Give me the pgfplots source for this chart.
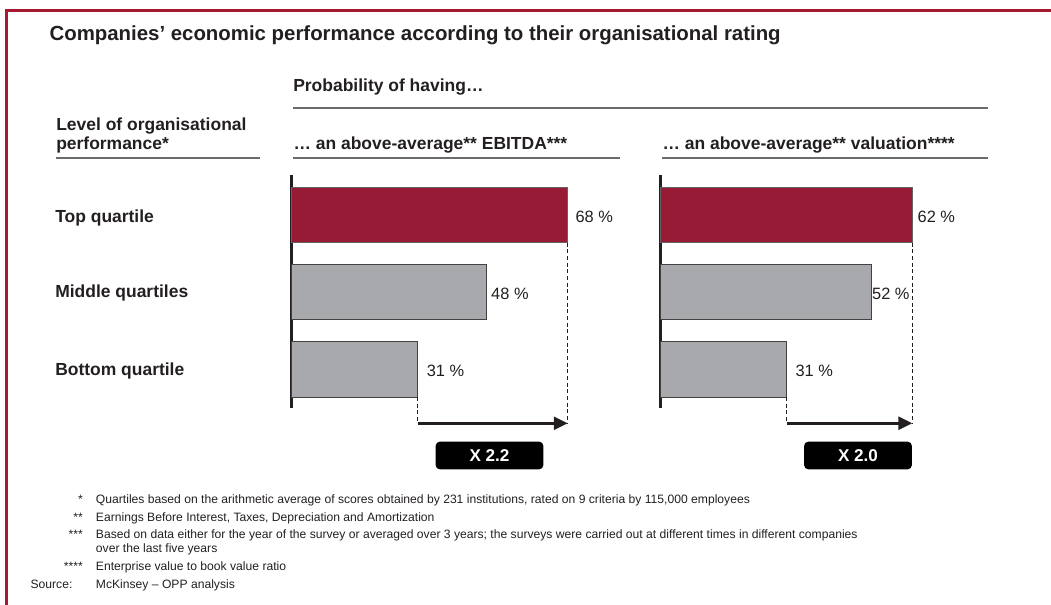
\documentclass[border=0pt]{standalone}
\usepackage{pgfplots}
\pgfplotsset{compat=1.18}
\usepackage{fontspec}
\setmainfont{Liberation Sans}
\usetikzlibrary{arrows.meta}

\definecolor{framered}{HTML}{A6192E}
\definecolor{barred}{HTML}{971B35}
\definecolor{bargrey}{HTML}{A7A9AC}
\definecolor{ink}{HTML}{231F20}
\definecolor{rulegrey}{HTML}{6B6B6B}

\newcommand\hd{\fontsize{13.1}{15}\selectfont\bfseries}
\newcommand\fn{\fontsize{9.1}{10}\selectfont}

\tikzset{
  gap/.style={densely dashed, line width=0.5pt, ink},
  growth/.style={line width=2.5pt, ink, -{Triangle[length=10.5pt,width=9.5pt]}},
}

% one bar panel: 4.06 px per percent, 77 px per row (1 px = 0.75pt)
\pgfplotsset{
  prob/.style={
    scale only axis, width=213.15pt, height=174.75pt,
    xmin=0, xmax=70, ymin=-0.52, ymax=2.5, y dir=reverse,
    axis x line=none, axis y line=left,
    xtick=\empty, ytick=\empty,
    y axis line style={line width=2.4pt, color=ink, -},
    xbar, bar width=0.716, bar shift=0pt, clip=false,
    point meta=x,
    /pgf/number format/assume math mode=true,
    nodes near coords={\pgfmathprintnumber{\pgfplotspointmeta} \%},
    every node near coord/.append style={font=\fontsize{12.3}{14}\selectfont,
      text=ink, anchor=base west, inner sep=0pt, yshift=-5.5pt},
  },
  redbar/.style={fill=barred, draw=ink!70, line width=0.5pt},
  greybar/.style={fill=bargrey, draw=ink!85, line width=0.6pt},
  lbl/.style={every node near coord/.append style={xshift=#1}},
}

\begin{document}
\begin{tikzpicture}[x=0.75pt, y=-0.75pt]
\useasboundingbox (0,0) rectangle (1051,605);
\draw[framered, line width=2.2pt, line join=miter] (6.8,606) -- (6.8,10.5) -- (1052,10.5);

\node[anchor=base west, inner sep=0pt, text=ink, font=\fontsize{15.3}{18}\selectfont\bfseries]
  at (49.3,41) {Companies’ economic performance according to their organisational rating};

% headers
\begin{scope}[every node/.style={anchor=base west, inner sep=0pt, text=ink, font=\hd}]
\node at (293,92) {Probability of having…};
\node at (56,130.7) {Level of organisational};
\node at (56,150) {performance*};
\node at (293.3,150) {… an above-average** EBITDA***};
\node at (662.3,150) {… an above-average** valuation****};
\node at (55,222.3) {Top quartile};
\node at (55,297.3) {Middle quartiles};
\node at (55,375.7) {Bottom quartile};
\end{scope}
\begin{scope}[rulegrey, line width=1.3pt]
\draw (293,107.7) -- (987.5,107.7);
\draw (56,158) -- (260,158);
\draw (293,158) -- (620,158);
\draw (662,158) -- (988,158);
\end{scope}

\coordinate (L) at (291.7,175);
\coordinate (R) at (660.7,175);

% above-average EBITDA
\begin{axis}[prob, at={(L)}, anchor=north west]
\addplot[redbar, lbl=5.6pt] coordinates {(68,0)};
\addplot[greybar, lbl=3.2pt] coordinates {(48,1)};
\addplot[greybar, lbl=6.6pt] coordinates {(31,2)};
\draw[gap] (axis cs:68,0.358) -- (axis cs:68,2.698);
\draw[gap] (axis cs:31,2.358) -- (axis cs:31,2.698);
\draw[growth] (axis cs:31,2.698) -- (axis cs:68,2.698);
\end{axis}

% above-average valuation
\begin{axis}[prob, at={(R)}, anchor=north west]
\addplot[redbar, lbl=3.7pt] coordinates {(62,0)};
\addplot[greybar, lbl=0pt] coordinates {(52,1)};
\addplot[greybar, lbl=6.5pt] coordinates {(31,2)};
\draw[gap] (axis cs:62,0.358) -- (axis cs:62,2.698);
\draw[gap] (axis cs:31,2.358) -- (axis cs:31,2.698);
\draw[growth] (axis cs:31,2.698) -- (axis cs:62,2.698);
\end{axis}

\begin{scope}[every node/.style={fill=black, rounded corners=3pt, minimum width=80.7pt,
    minimum height=20.7pt, inner sep=0pt, text=white, font=\fontsize{12.8}{14}\selectfont\bfseries}]
\node at (489.5,455.5) {X 2.2};
\node at (858,455.5) {X 2.0};
\end{scope}

% footnotes
\begin{scope}[every node/.style={inner sep=0pt, text=ink, font=\fn}]
\node[anchor=base east] at (83,503.7) {*};
\node[anchor=base east] at (83,521.5) {**};
\node[anchor=base east] at (83,539) {***};
\node[anchor=base east] at (83,570.5) {****};
\node[anchor=base east] at (72.7,589) {Source:};
\node[anchor=base west] at (95.7,503.7) {Quartiles based on the arithmetic average of scores obtained by 231 institutions, rated on 9 criteria by 115,000 employees};
\node[anchor=base west] at (95.7,521.5) {Earnings Before Interest, Taxes, Depreciation and Amortization};
\node[anchor=base west] at (95.7,539) {Based on data either for the year of the survey or averaged over 3 years; the surveys were carried out at different times in different companies};
\node[anchor=base west] at (95.7,553) {over the last five years};
\node[anchor=base west] at (95.7,570.5) {Enterprise value to book value ratio};
\node[anchor=base west] at (95.7,589) {McKinsey – OPP analysis};
\end{scope}
\end{tikzpicture}
\end{document}
